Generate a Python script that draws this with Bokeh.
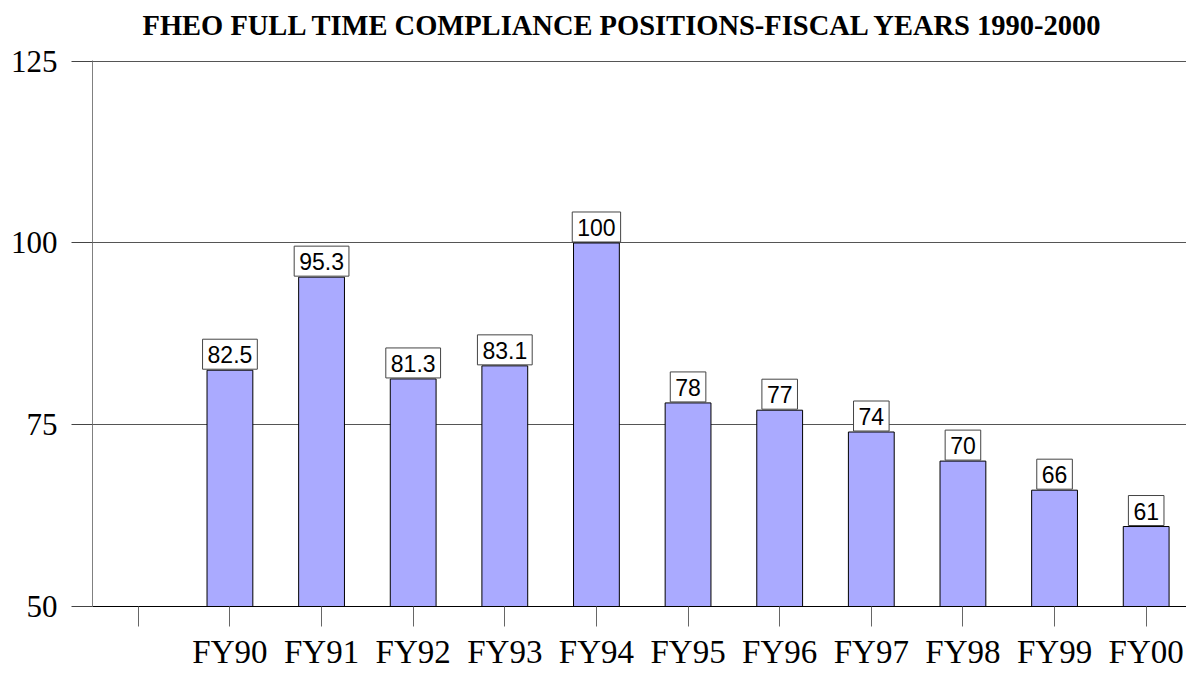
from bokeh.plotting import figure
from bokeh.models import Range1d, FixedTicker, ColumnDataSource
from bokeh.embed import file_html
from bokeh.resources import INLINE
from bokeh.core.properties import value

title_text = "FHEO FULL TIME COMPLIANCE POSITIONS-FISCAL YEARS 1990-2000"
categories = ["FY90", "FY91", "FY92", "FY93", "FY94", "FY95", "FY96", "FY97", "FY98", "FY99", "FY00"]
positions = [82.5, 95.3, 81.3, 83.1, 100, 78, 77, 74, 70, 66, 61]
value_labels = ["82.5", "95.3", "81.3", "83.1", "100", "78", "77", "74", "70", "66", "61"]
y_ticks = [50, 75, 100, 125]

slots = list(range(1, len(categories) + 1))
src = ColumnDataSource(dict(x=slots, top=positions, label=value_labels))

y_start, y_end = y_ticks[0], y_ticks[-1]

p = figure(width=1186, height=673, output_backend="svg", toolbar_location=None,
           x_range=Range1d(-0.5, 11.44), y_range=Range1d(y_start, y_end + 0.1),
           min_border_left=92, min_border_right=0, min_border_top=60, min_border_bottom=67)
p.outline_line_color = None
p.background_fill_color = "white"
p.border_fill_color = "white"

# title
p.title.text = title_text
p.title.align = "left"
p.title.vertical_align = "bottom"
p.title.text_font = "Liberation Serif"
p.title.text_font_style = "bold"
p.title.text_font_size = "28.5px"
p.title.text_color = "black"
p.title.offset = 50
p.title.padding = dict(left=0, right=0, top=0, bottom=15)

# bars
p.vbar(x="x", top="top", bottom=y_start, width=0.5, source=src,
       fill_color="#AAAAFF", line_color="black", line_width=1)

# value labels in boxes
p.text(x="x", y="top", text="label", source=src, text_align="center", text_baseline="bottom",
       text_font=value("Liberation Sans"), text_font_size="23px", text_color="black",
       y_offset=-1, background_fill_color="white", border_line_color="#444444",
       padding=dict(left=5, right=5, top=7, bottom=6))

# x axis
xa = p.xaxis[0]
xa.ticker = FixedTicker(ticks=[0] + slots)
overrides = {0: ""}
for s, c in zip(slots, categories):
    overrides[s] = c
xa.major_label_overrides = overrides
xa.major_label_text_font = "Liberation Serif"
xa.major_label_text_font_size = "33px"
xa.major_label_text_color = "black"
xa.major_label_standoff = 7
xa.major_tick_out = 20
xa.major_tick_in = 0
xa.major_tick_line_color = "#666666"
xa.minor_tick_line_color = None
xa.axis_line_color = "black"

# y axis
ya = p.yaxis[0]
ya.ticker = FixedTicker(ticks=y_ticks)
ya.major_label_text_font = "Liberation Serif"
ya.major_label_text_font_size = "31px"
ya.major_label_text_color = "black"
ya.major_label_standoff = 14
ya.major_tick_out = 21
ya.major_tick_in = 0
ya.major_tick_line_color = "#444444"
ya.minor_tick_line_color = None
ya.axis_line_color = "#808080"

p.xgrid.grid_line_color = None
p.ygrid.ticker = FixedTicker(ticks=y_ticks[1:])
p.ygrid.grid_line_color = "#555555"
p.ygrid.grid_line_width = 1

open("out.html", "w").write(file_html(p, INLINE))
